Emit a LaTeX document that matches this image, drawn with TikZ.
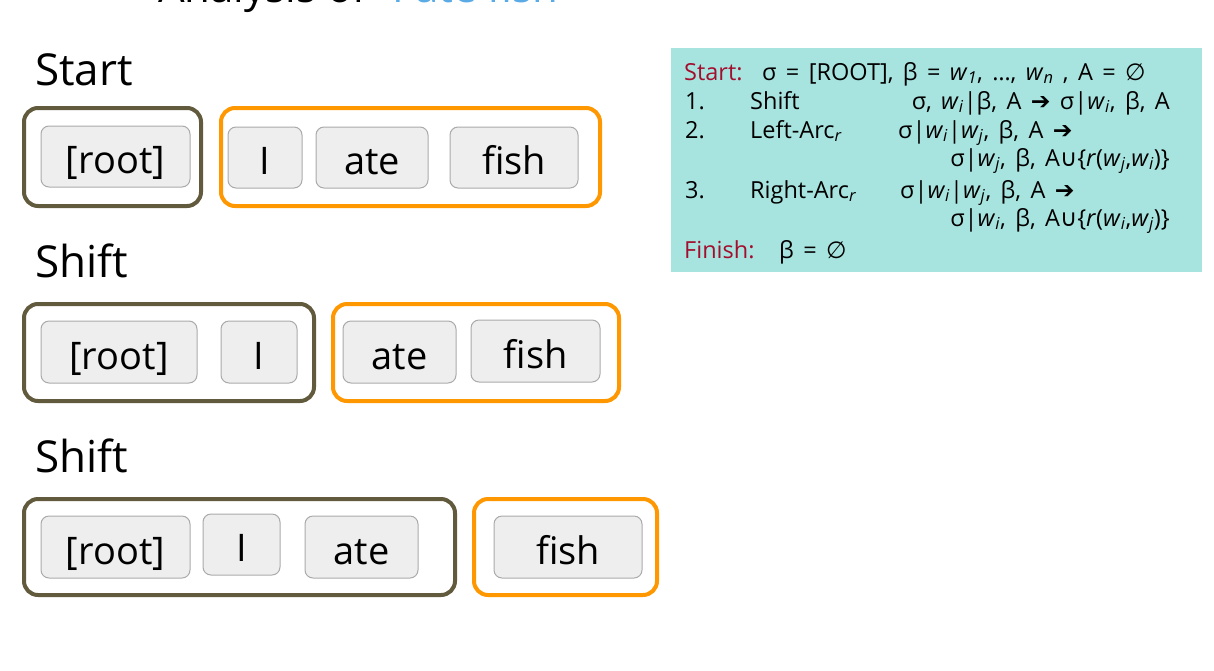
\documentclass[tikz,border=0pt]{standalone}
\usepackage{fontspec}
\setmainfont{Open Sans}
\newfontfamily\symfont{DejaVu Sans}

\definecolor{stackcol}{HTML}{625A3D}
\definecolor{bufcol}{HTML}{FF9700}
\definecolor{btnfill}{HTML}{EEEEEE}
\definecolor{btnedge}{HTML}{AAAAAA}
\definecolor{rulefill}{HTML}{A8E4DF}
\definecolor{rulered}{HTML}{A30E2E}
\definecolor{titleblue}{HTML}{5AAAE6}

% italic w with an italic subscript
\newcommand\ww[1]{\textit{w}\textsubscript{\textit{#1}}}
\newcommand\arr{{\symfont ➔}}
\newcommand\empt{{\symfont ∅}}
\newcommand\cupp{{\symfont ∪}}
% font of the rule box, with wider word spaces
\newcommand\rulefont{\fontsize{23.5}{26}\selectfont\spaceskip 0.4em plus 0.1em\relax}

\begin{document}
\begin{tikzpicture}[x=1pt,y=-1pt,
  word/.style={draw=btnedge, fill=btnfill, line width=1pt, rounded corners=8pt,
    inner sep=0pt, text height=34pt, text depth=0pt,
    font=\fontsize{38}{40}\selectfont},
  stackbox/.style={draw=stackcol, line width=4pt, rounded corners=14pt, inner sep=0pt},
  bufbox/.style={draw=bufcol, line width=4pt, rounded corners=14pt, inner sep=0pt},
  steplabel/.style={anchor=base west, inner sep=0pt, font=\fontsize{44}{48}\selectfont},
  rulebox/.style={fill=rulefill, draw=none, inner sep=0pt},
  ruletxt/.style={anchor=base west, inner sep=0pt, font=\rulefont},
  ruletxtr/.style={ruletxt, anchor=base east},
]
\useasboundingbox (0,0) rectangle (1214,670);

% heading, cut by the top edge
\begin{scope}
  \clip (0,0) rectangle (1214,30);
  \node[anchor=base west, inner sep=0pt, font=\fontsize{42}{46}\selectfont] (title)
    at (158,2) {Analysis of \textcolor{titleblue}{“I ate fish”}};
\end{scope}

% ---- Start ----
\node[steplabel] (lab1) at (35,85) {Start};
\node[stackbox, minimum width=177pt, minimum height=98pt] (s1) at (112.5,157) {};
\node[bufbox,   minimum width=379pt, minimum height=98pt] (b1) at (410.5,157) {};
\node[word, minimum width=149pt, minimum height=61pt] (s1root) at (115.5,156.5) {[root]};
\node[word, minimum width=74pt,  minimum height=61pt] (b1i)    at (265,157.5)   {I};
\node[word, minimum width=112pt, minimum height=61pt] (b1ate)  at (372,157.5)   {ate};
\node[word, minimum width=128pt, minimum height=61pt] (b1fish) at (514,157.5)   {fish};

% ---- Shift ----
\node[steplabel] (lab2) at (35,277) {Shift};
\node[stackbox, minimum width=290pt, minimum height=97pt] (s2) at (169,352.5) {};
\node[bufbox,   minimum width=286pt, minimum height=97pt] (b2) at (476,352.5) {};
\node[word, minimum width=156pt, minimum height=62pt] (s2root) at (119,352)   {[root]};
\node[word, minimum width=76pt,  minimum height=62pt] (s2i)    at (259,352)   {I};
\node[word, minimum width=113pt, minimum height=62pt] (b2ate)  at (399.5,352) {ate};
\node[word, minimum width=129pt, minimum height=62pt] (b2fish) at (535.5,351) {fish};

% ---- Shift ----
\node[steplabel] (lab3) at (35,472) {Shift};
\node[stackbox, minimum width=431pt, minimum height=96pt] (s3) at (239.5,547) {};
\node[bufbox,   minimum width=183pt, minimum height=96pt] (b3) at (565.5,547) {};
\node[word, minimum width=149pt, minimum height=62pt] (s3root) at (115.5,547)  {[root]};
\node[word, minimum width=77pt,  minimum height=61pt] (s3i)    at (241.5,544.5) {I};
\node[word, minimum width=113pt, minimum height=62pt] (s3ate)  at (361.5,547)  {ate};
\node[word, minimum width=148pt, minimum height=62pt] (b3fish) at (568,547)    {fish};

% ---- transition rules ----
\node[rulebox, minimum width=531pt, minimum height=224pt] (rules) at (936.5,160) {};
\node[ruletxt] (rstart) at (684,80) {\textcolor{rulered}{Start:}};
\node[ruletxt] (rstartx) at (762,80) {σ = [ROOT], β = \ww{1}, …, \ww{n} , A = \empt};
\node[ruletxt] (r1n) at (685,109) {1.};
\node[ruletxt] (r1) at (750,109) {Shift};
\node[ruletxtr] (r1x) at (1170,109) {σ, \ww{i}|β, A \arr\ σ|\ww{i}, β, A};
\node[ruletxt] (r2n) at (685,138) {2.};
\node[ruletxt] (r2) at (750,138) {Left-Arc\textsubscript{\textit{r}}};
\node[ruletxt] (r2x) at (898,138) {σ|\ww{i}|\ww{j}, β, A \arr};
\node[ruletxtr] (r2y) at (1170,166) {σ|\ww{j}, β, A\cupp\{\textit{r}(\ww{j},\ww{i})\}};
\node[ruletxt] (r3n) at (685,198) {3.};
\node[ruletxt] (r3) at (750,198) {Right-Arc\textsubscript{\textit{r}}};
\node[ruletxt] (r3x) at (900,198) {σ|\ww{i}|\ww{j}, β, A \arr};
\node[ruletxtr] (r3y) at (1170,226) {σ|\ww{i}, β, A\cupp\{\textit{r}(\ww{i},\ww{j})\}};
\node[ruletxt] (rfin) at (684,258) {\textcolor{rulered}{Finish:}};
\node[ruletxt] (rfinx) at (779,258) {β = \empt};
\end{tikzpicture}
\end{document}
